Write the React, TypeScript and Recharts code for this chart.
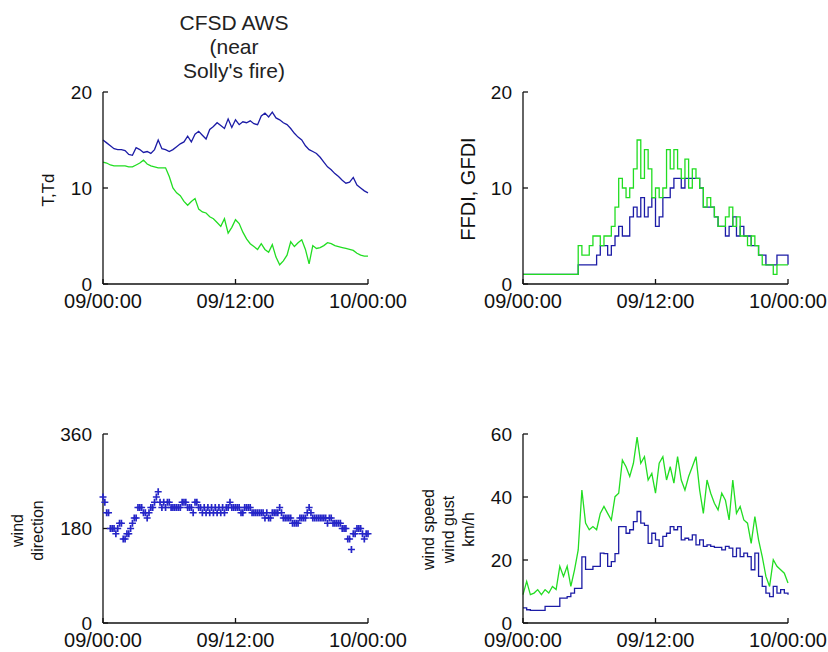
import React from "react";
import { LineChart, Line, ScatterChart, Scatter, XAxis, YAxis } from "recharts";

const TIME_TICKS = [0, 12, 24];
const TIME_LABELS = ["09/00:00", "09/12:00", "10/00:00"];
const TITLE_LINES = ["CFSD AWS", "(near", "Solly's fire)"];

// 20-minute samples, 09/00:00 .. 10/00:00
const T_VALUES = [
  15.0, 14.7, 14.4, 14.1, 14.0, 14.0, 13.9, 13.5, 13.4, 14.2, 14.0, 13.7,
  13.8, 13.6, 14.0, 15.0, 14.1, 14.0, 13.8, 14.0, 14.3, 14.6, 14.8, 15.4,
  14.8, 15.6, 15.9, 15.5, 15.1, 16.1, 16.4, 16.8, 16.5, 16.2, 17.2, 16.3,
  17.1, 16.6, 16.9, 16.8, 17.0, 16.7, 16.6, 17.5, 17.8, 17.4, 17.9, 17.3,
  17.1, 16.8, 16.6, 16.2, 15.7, 15.3, 15.0, 14.4, 14.0, 13.8, 13.6, 13.2,
  12.7, 12.2, 11.9, 11.5, 11.2, 10.8, 10.5, 10.6, 11.1, 10.3, 10.0, 9.7,
  9.5,
];
const TD_VALUES = [
  12.7, 12.6, 12.4, 12.3, 12.3, 12.3, 12.3, 12.2, 12.2, 12.4, 12.6, 12.9,
  12.5, 12.3, 12.2, 12.1, 12.1, 12.1, 11.2, 10.0, 9.5, 9.2, 8.6, 8.2,
  8.6, 8.9, 7.8, 7.5, 7.4, 7.0, 6.8, 6.4, 6.0, 6.8, 5.3, 5.9,
  6.7, 6.3, 5.4, 4.7, 4.2, 3.9, 3.6, 4.2, 3.6, 3.3, 4.1, 2.8,
  2.0, 2.4, 3.0, 4.4, 3.9, 4.3, 4.6, 3.6, 2.1, 4.0, 3.7, 3.8,
  4.0, 4.3, 4.2, 4.0, 3.9, 3.8, 3.7, 3.6, 3.5, 3.2, 3.0, 2.9,
  2.9,
];
const FFDI = [
  1, 1, 1, 1, 1, 1, 1, 1, 1, 1, 1, 1,
  1, 1, 1, 2, 2, 2, 2, 2, 3, 4, 4, 3,
  4, 5, 6, 5, 5, 7, 8, 7, 9, 7, 8, 9,
  6, 7, 9, 9, 10, 11, 11, 10, 11, 11, 11, 11,
  10, 8, 8, 8, 7, 6, 6, 5, 6, 7, 5, 6,
  5, 5, 4, 4, 3, 3, 2, 2, 2, 3, 3, 3,
  2,
];
const GFDI = [
  1, 1, 1, 1, 1, 1, 1, 1, 1, 1, 1, 1,
  1, 1, 1, 4, 3, 3, 4, 5, 5, 4, 5, 5,
  6, 8, 11, 10, 9, 10, 12, 15, 11, 14, 12, 9,
  10, 9, 10, 14, 12, 14, 12, 11, 13, 10, 12, 11,
  10, 8, 9, 8, 7, 6, 6, 7, 8, 6, 7, 5,
  5, 4, 5, 4, 3, 2, 2, 2, 1, 2, 2, 2,
  2,
];
const WIND_SPEED = [
  4.8, 4.2, 4.0, 4.0, 4.0, 4.0, 5.3, 5.3, 5.3, 5.3, 7.9, 7.9,
  8.4, 9.5, 11.0, 11.0, 21.0, 17.0, 17.0, 18.0, 18.0, 22.2, 22.0, 18.0,
  19.5, 22.0, 30.6, 30.6, 28.5, 29.6, 32.2, 35.4, 31.7, 31.0, 25.3, 28.5,
  26.4, 24.3, 27.5, 28.5, 30.6, 29.6, 30.6, 26.4, 26.9, 26.4, 28.0, 24.8,
  26.4, 24.3, 24.8, 24.3, 24.0, 24.0, 23.2, 24.3, 23.8, 21.1, 23.8, 21.1,
  22.2, 21.1, 16.9, 22.2, 14.8, 11.6, 9.5, 8.4, 11.6, 9.5, 10.6, 9.5,
  9.0,
];
const WIND_GUST = [
  9.0, 13.2, 9.0, 9.5, 10.6, 9.0, 10.6, 9.5, 11.6, 10.6, 18.0, 14.8,
  18.0, 11.6, 16.9, 23.2, 42.2, 31.7, 29.6, 30.6, 29.6, 34.8, 37.0, 34.8,
  32.7, 40.1, 41.2, 51.7, 49.6, 46.5, 50.7, 59.0, 50.7, 52.8, 45.4, 47.5,
  41.2, 50.7, 52.8, 45.4, 49.6, 44.4, 52.8, 45.4, 42.2, 46.5, 49.6, 52.8,
  42.2, 34.8, 45.4, 41.2, 38.0, 35.9, 41.2, 39.0, 32.7, 45.4, 34.8, 37.0,
  32.7, 31.7, 25.3, 33.8, 26.4, 21.1, 14.8, 11.6, 20.1, 18.0, 16.9, 15.8,
  12.7,
];
// 10-minute samples
const WIND_DIR = [
  240, 230, 210, 210, 180, 180, 180, 170, 180, 190, 190, 160,
  160, 170, 170, 180, 190, 200, 200, 220, 220, 220, 210, 210,
  200, 210, 220, 220, 230, 240, 250, 230, 220, 230, 220, 230,
  230, 220, 220, 220, 220, 220, 220, 230, 230, 230, 220, 220,
  220, 210, 230, 230, 220, 220, 210, 220, 210, 220, 210, 220,
  210, 220, 210, 220, 210, 220, 210, 220, 220, 230, 220, 220,
  220, 220, 220, 210, 210, 220, 220, 220, 220, 210, 210, 210,
  210, 210, 210, 210, 200, 210, 200, 200, 210, 210, 210, 210,
  220, 210, 200, 200, 200, 200, 200, 190, 190, 190, 190, 200,
  200, 200, 200, 210, 220, 210, 200, 200, 200, 200, 200, 200,
  200, 200, 190, 200, 200, 190, 190, 190, 190, 190, 180, 180,
  180, 160, 160, 140, 170, 170, 180, 180, 180, 170, 160, 170,
  170,
];

const tempRows = T_VALUES.map((t, i) => ({ h: i / 3, t, td: TD_VALUES[i] }));
const fdiRows = FFDI.map((f, i) => ({ h: i / 3, ffdi: f, gfdi: GFDI[i] }));
const windRows = WIND_SPEED.map((s, i) => ({ h: i / 3, speed: s, gust: WIND_GUST[i] }));
const dirRows = WIND_DIR.map((d, i) => ({ h: i / 6, dir: d }));

const FONT = "'Liberation Sans', Arial, Helvetica, sans-serif";
const INK = "#111";
const BLUE = "#1c1ca6";
const GREEN = "#22dd22";
const DIR_BLUE = "#2525c8";

const axisLine = { stroke: INK, strokeWidth: 1.3 };
const xTick = { fontSize: 20, fill: INK, fontFamily: FONT };
const yTick = { fontSize: 19, fill: INK, fontFamily: FONT };

function SideLabel({ viewBox, lines, xs, size, dy = 0 }: any) {
  const cy = viewBox.y + viewBox.height / 2 + dy;
  return (
    <g>
      {lines.map((line: string, i: number) => {
        const x = viewBox.x + xs[i];
        return (
          <text
            key={line}
            x={x}
            y={cy}
            transform={`rotate(-90 ${x} ${cy})`}
            textAnchor="middle"
            dominantBaseline="central"
            fontSize={size}
            fontFamily={FONT}
            fill={INK}
          >
            {line}
          </text>
        );
      })}
    </g>
  );
}

function frame(yDomain: number[], yTicks: number[], yWidth: number, xHeight: number, label: any) {
  return [
    <XAxis
      key="xb"
      xAxisId="b"
      dataKey="h"
      type="number"
      domain={[0, 24]}
      ticks={TIME_TICKS}
      interval={0}
      tickFormatter={(v: number) => TIME_LABELS[TIME_TICKS.indexOf(v)]}
      height={xHeight}
      tickSize={-5}
      tickMargin={15}
      axisLine={axisLine}
      tickLine={axisLine}
      tick={xTick}
    />,
    <XAxis
      key="xt"
      xAxisId="t"
      orientation="top"
      type="number"
      domain={[0, 24]}
      ticks={TIME_TICKS}
      interval={0}
      height={0}
      tickSize={-5}
      axisLine={axisLine}
      tickLine={axisLine}
      tick={false}
    />,
    <YAxis
      key="yl"
      yAxisId="l"
      type="number"
      domain={yDomain}
      ticks={yTicks}
      interval={0}
      allowDataOverflow
      width={yWidth}
      tickSize={-5}
      tickMargin={16}
      axisLine={axisLine}
      tickLine={axisLine}
      tick={yTick}
      label={{ content: (p: any) => <SideLabel viewBox={p.viewBox} {...label} /> }}
    />,
    <YAxis
      key="yr"
      yAxisId="r"
      orientation="right"
      type="number"
      domain={yDomain}
      ticks={yTicks}
      interval={0}
      width={0}
      tickSize={-5}
      axisLine={axisLine}
      tickLine={axisLine}
      tick={false}
    />,
  ];
}

function PlusMark(props: any) {
  const { cx, cy } = props;
  if (cx == null || cy == null) return null;
  const r = 3.5;
  return (
    <path
      d={`M${cx - r},${cy}H${cx + r}M${cx},${cy - r}V${cy + r}`}
      stroke={DIR_BLUE}
      strokeWidth={1.7}
      fill="none"
    />
  );
}

const W = 414;
const H = 326;

export default function App() {
  return (
    <div
      style={{
        position: "absolute",
        left: 0,
        top: 0,
        width: 828,
        height: 652,
        background: "#fff",
        overflow: "hidden",
      }}
    >
      <div
        style={{
          position: "absolute",
          left: 134,
          top: 11,
          width: 200,
          textAlign: "center",
          fontFamily: FONT,
          fontSize: 21,
          lineHeight: "24px",
          color: "#222",
        }}
      >
        {TITLE_LINES.map((l) => (
          <div key={l}>{l}</div>
        ))}
      </div>

      <div style={{ position: "absolute", left: 0, top: 0 }}>
        <LineChart width={W} height={H} data={tempRows} margin={{ top: 92, right: 46, bottom: 0, left: 0 }}>
          {frame([0, 20], [0, 10, 20], 103, 42, { lines: ["T,Td"], xs: [48], size: 17, dy: 2 })}
          <Line xAxisId="b" yAxisId="l" type="linear" dataKey="t" stroke={BLUE} strokeWidth={1.3} dot={false} isAnimationActive={false} />
          <Line xAxisId="b" yAxisId="l" type="linear" dataKey="td" stroke={GREEN} strokeWidth={1.3} dot={false} isAnimationActive={false} />
        </LineChart>
      </div>

      <div style={{ position: "absolute", left: 414, top: 0 }}>
        <LineChart width={W} height={H} data={fdiRows} margin={{ top: 92, right: 40, bottom: 0, left: 0 }}>
          {frame([0, 20], [0, 10, 20], 109, 42, { lines: ["FFDI, GFDI"], xs: [54], size: 20, dy: 1 })}
          <Line xAxisId="b" yAxisId="l" type="stepAfter" dataKey="ffdi" stroke={BLUE} strokeWidth={1.3} dot={false} isAnimationActive={false} />
          <Line xAxisId="b" yAxisId="l" type="stepAfter" dataKey="gfdi" stroke={GREEN} strokeWidth={1.3} dot={false} isAnimationActive={false} />
        </LineChart>
      </div>

      <div style={{ position: "absolute", left: 0, top: 326 }}>
        <ScatterChart width={W} height={H} margin={{ top: 108, right: 46, bottom: 0, left: 0 }}>
          {frame([0, 360], [0, 180, 360], 103, 29, { lines: ["wind", "direction"], xs: [17.5, 37.5], size: 16, dy: 2 })}
          <Scatter
            xAxisId="b"
            yAxisId="l"
            data={dirRows}
            dataKey="dir"
            shape={(p: any) => <PlusMark {...p} />}
            isAnimationActive={false}
          />
        </ScatterChart>
      </div>

      <div style={{ position: "absolute", left: 414, top: 326 }}>
        <LineChart width={W} height={H} data={windRows} margin={{ top: 108, right: 40, bottom: 0, left: 0 }}>
          {frame([0, 60], [0, 20, 40, 60], 109, 29, {
            lines: ["wind speed", "wind gust", "km/h"],
            xs: [14, 34, 54],
            size: 16,
            dy: 1,
          })}
          <Line xAxisId="b" yAxisId="l" type="stepAfter" dataKey="speed" stroke={BLUE} strokeWidth={1.3} dot={false} isAnimationActive={false} />
          <Line xAxisId="b" yAxisId="l" type="linear" dataKey="gust" stroke={GREEN} strokeWidth={1.3} dot={false} isAnimationActive={false} />
        </LineChart>
      </div>
    </div>
  );
}
